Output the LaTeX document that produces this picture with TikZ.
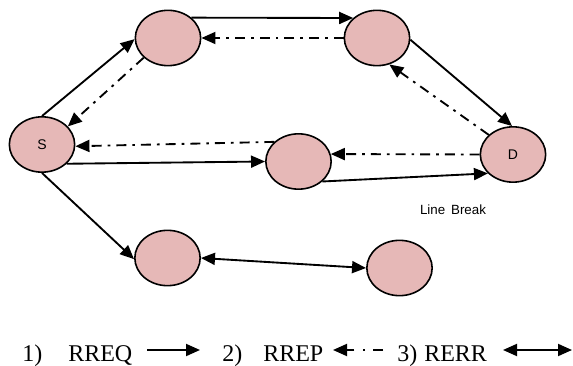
\documentclass[tikz,border=0pt]{standalone}
\usepackage{fontspec}
\setmainfont{Liberation Serif}
\newfontfamily\arialfont{Liberation Sans}
\usetikzlibrary{arrows.meta,shapes.geometric}
\definecolor{nodepink}{RGB}{230,184,183}
\tikzset{
	hop/.style={ellipse, draw, line width=1.2pt, fill=nodepink, minimum width=49pt, minimum height=41.5pt, inner sep=0pt, font=\arialfont\fontsize{10.5}{12}\selectfont},
	req/.style={line width=1.4pt, -{Triangle[length=10.5pt,width=9pt]}},
	rep/.style={req, dash pattern=on 7.5pt off 4.5pt on 2pt off 4.5pt},
	err/.style={line width=1.4pt, {Triangle[length=10.5pt,width=9pt]}-{Triangle[length=10.5pt,width=9pt]}},
	legend/.style={anchor=base west, inner sep=0pt, font=\fontsize{18}{20}\selectfont}
}

\begin{document}
\begin{tikzpicture}[x=0.75pt, y=-0.75pt]
		%%%%% START %%%%%
		\useasboundingbox (0, 0) rectangle (573, 366);
		
		\node[hop] (S) at (42, 144.5) {S};
		\node[hop] (A) at (168, 38) {};
		\node[hop] (B) at (377, 38) {};
		\node[hop] (D) at (513, 154.5) {D};
		\node[hop] (M) at (298.5, 161.5) {};
		\node[hop] (L) at (167.5, 258) {};
		\node[hop] (R) at (399.5, 268) {};
		
		\node[font=\arialfont\fontsize{10}{12}\selectfont] (brk) at (453, 210) {Line\, Break};
		
		% route request
		\draw[req] (S.90) -- (A.182);
		\draw[req] (A.41) -- (B.140);
		\draw[req] (B.357) -- (D.92);
		\draw[req] (S.322) -- (M.180);
		\draw[req] (M.320) -- (D.217);
		\draw[req] (S.270) -- (L.182);
		
		% route reply
		\draw[rep] (A.219) -- (S.35);
		\draw[rep] (B.180) -- (A.0);
		\draw[rep] (D.141) -- (B.295);
		\draw[rep] (D.180) -- (M.13);
		\draw[rep] (M.141) -- (S.357);
		
		% route error
		\draw[err] (L.0) -- (R.180);
		
		% legend
		\node[legend] (n1) at (22, 361) {1)};
		\node[legend] (t1) at (68, 361) {RREQ};
		\node[legend] (n2) at (222, 361) {2)};
		\node[legend] (t2) at (263, 361) {RREP};
		\node[legend] (n3) at (397, 361) {3)};
		\node[legend] (t3) at (424, 361) {RERR};
		
		\coordinate (k1a) at (147, 350);
		\coordinate (k1b) at (200, 350);
		\coordinate (k2a) at (383, 350);
		\coordinate (k2b) at (333, 350);
		\coordinate (k3a) at (503, 350);
		\coordinate (k3b) at (572, 350);
		
		\draw[req] (k1a) -- (k1b);
		\draw[req, dash pattern=on 7.5pt off 6pt on 1.5pt off 6.5pt on 20pt] (k2a) -- (k2b);
		\draw[err] (k3a) -- (k3b);
		
		%%%%% END %%%%%
	\end{tikzpicture}
\end{document}
